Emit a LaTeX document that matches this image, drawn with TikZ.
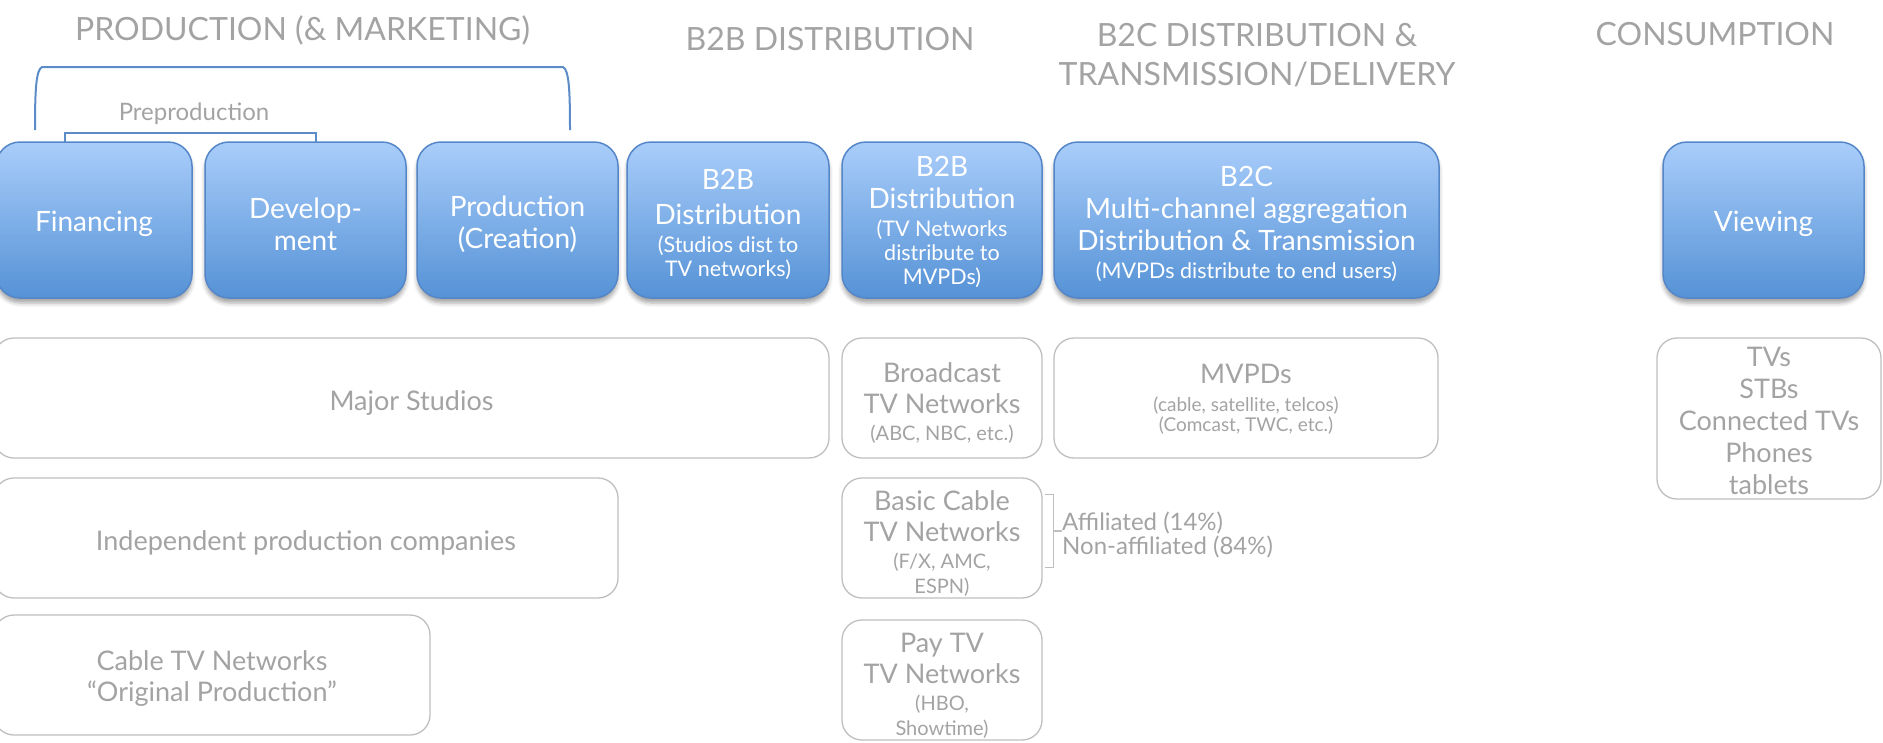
\documentclass[tikz,border=0pt]{standalone}
\usepackage{fontspec}
\setmainfont{Lato}
\usepackage{tikz}
\usetikzlibrary{calc,shadows.blur}
\definecolor{boxtop}{HTML}{A9CDFA}
\definecolor{boxbottom}{HTML}{5592D6}
\definecolor{boxline}{HTML}{5587C8}
\definecolor{greytext}{HTML}{A3A3A3}
\definecolor{greyline}{HTML}{BFBFBF}
\definecolor{bracketblue}{HTML}{5B8CC8}
\newcommand{\headfont}{\fontsize{32}{39}\selectfont}
\newcommand{\bigtxt}{\fontsize{28}{32}\selectfont}
\newcommand{\greytxt}{\fontsize{27}{31}\selectfont}
\newcommand{\subtxt}{\fontsize{21.5}{24}\selectfont}
\newcommand{\subgrey}{\fontsize{20}{25}\selectfont}
\newcommand{\tinytxt}{\fontsize{19}{20}\selectfont}
\newcommand{\topgap}[1]{\rule{0pt}{#1}}

\begin{document}
\begin{tikzpicture}[x=1pt,y=-1pt,
  stage/.style={draw=boxline,line width=1.5pt,rounded corners=24pt,top color=boxtop,bottom color=boxbottom,
    text=white,align=center,minimum height=156pt,inner sep=0pt,font=\bigtxt,
    blur shadow={shadow xshift=0pt,shadow yshift=-5pt,shadow blur radius=4pt,shadow opacity=35}},
  player/.style={draw=greyline,line width=1.3pt,rounded corners=20pt,text=greytext,align=center,
    minimum height=120pt,inner sep=0pt,font=\greytxt},
  header/.style={text=greytext,font=\headfont,anchor=base,inner sep=0pt},
  bracket/.style={draw=bracketblue,line width=2pt}]
\useasboundingbox (0,0) rectangle (1883,742);

\node[header] (prodhead) at (302.5,40) {PRODUCTION (\& MARKETING)};
\node[header] (b2bhead) at (830,50) {B2B DISTRIBUTION};
\node[header,anchor=north,align=center] (b2chead) at (1257,23) {B2C DISTRIBUTION \&\\TRANSMISSION/DELIVERY};
\node[header] (conshead) at (1715,45) {CONSUMPTION};

\node[stage,minimum width=196pt] (fin) at (94,220) {\topgap{29pt}Financing};
\node[stage,minimum width=201pt] (dev) at (305.5,220) {\topgap{29pt}Develop-\\ment};
\node[stage,minimum width=201pt] (prod) at (517.5,220) {\topgap{29pt}Production\\(Creation)};
\node[stage,minimum width=202pt] (studdist) at (728,220) {\topgap{29pt}B2B\\[3pt]Distribution\\[-4pt]\subtxt (Studios dist to\\[-8pt]\subtxt TV networks)};
\node[stage,minimum width=200pt] (netdist) at (942,220) {\topgap{25pt}B2B\\Distribution\\[-4pt]\subtxt (TV Networks\\[-8pt]\subtxt distribute to\\[-8pt]\subtxt MVPDs)};
\node[stage,minimum width=385pt] (mvpddist) at (1246.5,220) {\topgap{29pt}B2C\\Multi-channel aggregation\\Distribution \& Transmission\\[-4pt]\subtxt (MVPDs distribute to end users)};
\node[stage,minimum width=201pt] (view) at (1763.5,220) {\topgap{29pt}Viewing};

\coordinate (mktleft) at (35,130);
\coordinate (mktright) at (570,130);
\draw[bracket] (mktleft) .. controls (35,90) and (36,70) .. (42,67) -- (563,67) .. controls (569,70) and (570,90) .. (mktright);
\coordinate (preleft) at (65,142);
\coordinate (preright) at (316,142);
\draw[bracket] (preleft) -- (65,133) -- (316,133) -- (preright);
\node[text=greytext,font=\fontsize{24}{28}\selectfont,anchor=base,inner sep=0pt] (prelabel) at (194,120) {Preproduction};

\node[player,minimum width=835pt] (major) at (411.5,398) {\topgap{30pt}Major Studios};
\node[player,minimum width=624pt] (indep) at (306,538) {\topgap{30pt}Independent production companies};
\node[player,minimum width=436pt] (cabletv) at (212,675) {\topgap{27pt}Cable TV Networks\\“Original Production”};
\node[player,minimum width=200pt] (bcast) at (942,398) {\topgap{30pt}Broadcast\\TV Networks\\[-4pt]\subgrey (ABC, NBC, etc.)};
\node[player,minimum width=384pt] (mvpd) at (1246,398) {\topgap{22pt}MVPDs\\[-3pt]\tinytxt (cable, satellite, telcos)\\[-11pt]\tinytxt (Comcast, TWC, etc.)};
\node[player,minimum width=200pt] (basic) at (942,538) {\topgap{30pt}Basic Cable\\TV Networks\\[-4pt]\subgrey (F/X, AMC,\\[-6pt]\subgrey ESPN)};
\node[player,minimum width=200pt] (paytv) at (942,680) {\topgap{30pt}Pay TV\\TV Networks\\[-4pt]\subgrey (HBO,\\[-6pt]\subgrey Showtime)};
\node[player,minimum width=224pt,minimum height=161pt,font=\fontsize{27}{32}\selectfont] (devices) at (1769,418.5) {\topgap{25pt}TVs\\STBs\\Connected TVs\\Phones\\tablets};

\node[text=greytext,font=\fontsize{24}{24}\selectfont,align=left,anchor=base west,inner sep=0pt] (affil) at (1062,554) {Affiliated (14\%)\\Non-affiliated (84\%)};
\draw[greyline,line width=1.3pt] ($(basic.north east)+(2,17)$) -- ++(9,0) coordinate (bktop) -- ($(basic.south east)+(11,-31)$) -- ++(-9,0);
\draw[greyline,line width=1.3pt] ($(bktop)!0.5!($(basic.south east)+(11,-31)$)$) -- (affil.west |- 0,531);
\end{tikzpicture}
\end{document}
